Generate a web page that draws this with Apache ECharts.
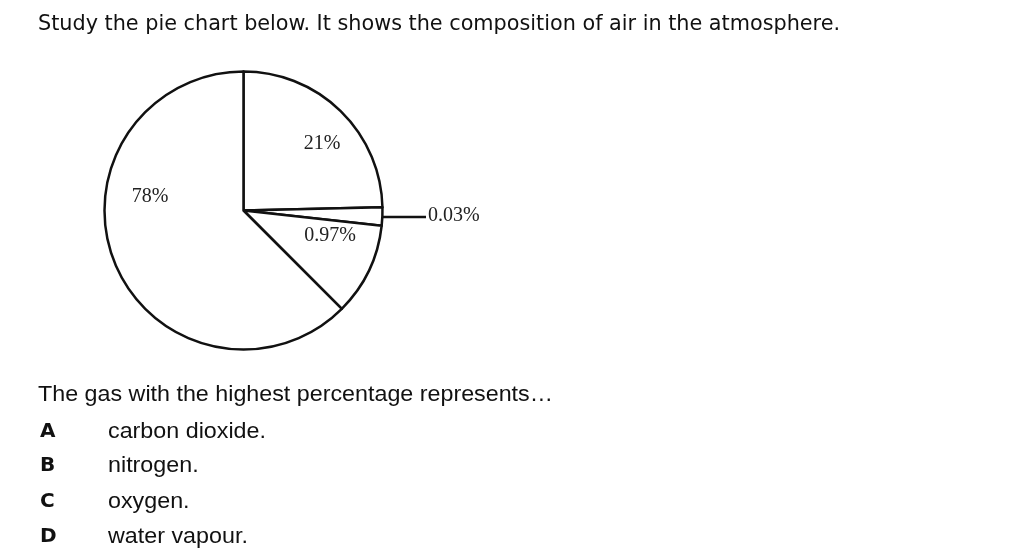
<!DOCTYPE html>
<html>
<head>
<meta charset="utf-8">
<script src="https://cdn.jsdelivr.net/npm/echarts@6/dist/echarts.min.js"></script>
<style>
html,body{margin:0;padding:0;background:#fff;}
#chart{width:1026px;height:557px;}
</style>
</head>
<body>
<div id="chart"></div>
<script>
// ---- data ----
const titleText = 'Study the pie chart below. It shows the composition of air in the atmosphere.';
const questionText = 'The gas with the highest percentage represents…';
const optionLetters = ['A', 'B', 'C', 'D'];
const optionTexts = ['carbon dioxide.', 'nitrogen.', 'oxygen.', 'water vapour.'];
const sliceNames = ['Oxygen', 'Carbon dioxide', 'Other gases', 'Nitrogen'];
const sliceLabels = ['21%', '0.03%', '0.97%', '78%'];
// share of the circle as the slices are drawn in the picture (degrees of arc)
const sliceDrawnShare = [88.7, 7.6, 38.7, 225.0];

// ---- helpers ----
const ctx = document.createElement('canvas').getContext('2d');
function widthAt(text, family, weight, size) {
  ctx.font = weight + ' ' + size + 'px ' + family;
  return ctx.measureText(text).width;
}
const SANS = '"Liberation Sans"';
const TITLE_FONT = '"DejaVu Sans Condensed", "DejaVu Sans"';
const SERIF = '"Liberation Serif"';

function fittedText(text, family, weight, size, x, y, targetWidth) {
  const w = widthAt(text, family, weight, size);
  return {
    type: 'text', x: x, y: y, scaleX: targetWidth ? targetWidth / w : 1, silent: true,
    style: {
      text: text, x: 0, y: 0, align: 'left', verticalAlign: 'middle',
      fontFamily: family, fontWeight: weight, fontSize: size, fill: '#111'
    }
  };
}

const graphics = [];
graphics.push(fittedText(titleText, TITLE_FONT, 'normal', 21, 38, 25, 802));
graphics.push(fittedText(questionText, SANS, 'normal', 22, 38, 395, 515));
const optScale = 158 / widthAt(optionTexts[0], SANS, 'normal', 22);
const optY = [432, 466, 502, 537];
optionLetters.forEach((l, i) => {
  graphics.push(fittedText(l, '"DejaVu Sans"', 'bold', 20, 40, optY[i], 0));
  const t = fittedText(optionTexts[i], SANS, 'normal', 22, 108, optY[i], 0);
  t.scaleX = optScale;
  graphics.push(t);
});

const labelSpots = [
  { x: 322, y: 144, align: 'center' },
  { x: 428, y: 216, align: 'left', labelLinePoints: [[372, 217], [400, 217], [426, 217]] },
  { x: 330, y: 236, align: 'center' },
  { x: 150, y: 197, align: 'center' }
];

const data = sliceDrawnShare.map((v, i) => {
  const item = { value: v, name: sliceNames[i] };
  if (i === 1) {
    item.label = { position: 'outside' };
    item.labelLine = { show: true, lineStyle: { color: '#111', width: 2.5 } };
  }
  return item;
});

const chart = echarts.init(document.getElementById('chart'), null, { renderer: 'canvas' });
chart.setOption({
  backgroundColor: '#fff',
  animation: false,
  graphic: graphics,
  series: [{
    type: 'pie',
    center: [243.5, 210.5],
    radius: 139,
    startAngle: 90,
    clockwise: true,
    silent: true,
    avoidLabelOverlap: false,
    itemStyle: { color: '#fff', borderColor: '#111', borderWidth: 2.5 },
    label: {
      show: true, position: 'inside',
      formatter: p => sliceLabels[p.dataIndex],
      fontFamily: SERIF, fontSize: 20, color: '#222'
    },
    labelLine: { show: false },
    labelLayout: p => {
      const s = labelSpots[p.dataIndex];
      const r = { x: s.x, y: s.y, align: s.align, verticalAlign: 'middle' };
      if (s.labelLinePoints) r.labelLinePoints = s.labelLinePoints;
      return r;
    },
    data: data
  }]
});
</script>
</body>
</html>
